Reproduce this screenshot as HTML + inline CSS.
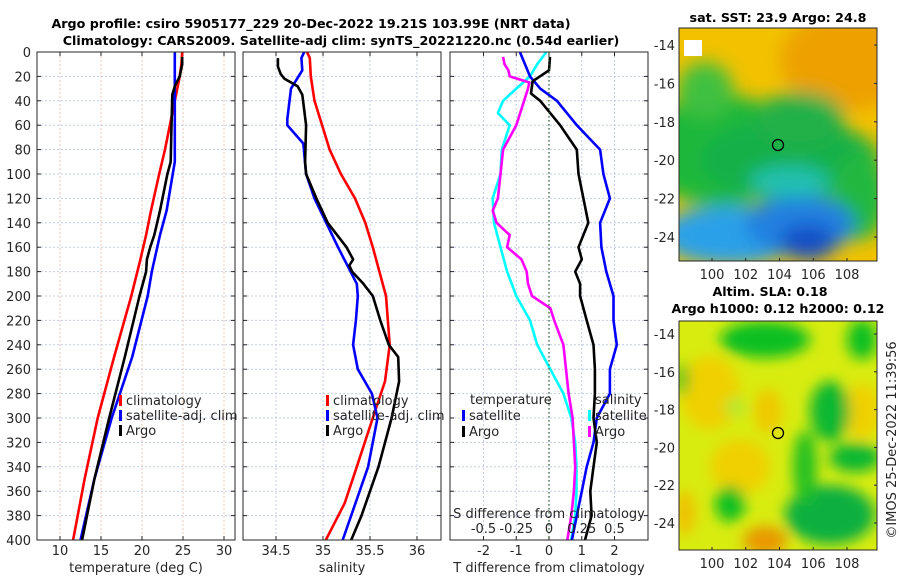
<!DOCTYPE html>
<html><head><meta charset="utf-8"><style>
html,body{margin:0;padding:0;background:#fff;}
svg{display:block;font-family:"DejaVu Sans","Liberation Sans",sans-serif;}
.t{font-size:13px;fill:#262626;}
.b{font-size:12.7px;font-weight:bold;fill:#000;}
</style></head><body>
<svg id="c" width="900" height="580" xmlns="http://www.w3.org/2000/svg">
<defs>
<filter id="bl1" x="-50%" y="-50%" width="200%" height="200%"><feGaussianBlur stdDeviation="9"/></filter>
<filter id="bl2" x="-50%" y="-50%" width="200%" height="200%"><feGaussianBlur stdDeviation="7"/></filter>
<clipPath id="cm1"><rect x="679" y="28" width="198" height="233"/></clipPath>
<clipPath id="cm2"><rect x="679" y="321" width="198" height="229"/></clipPath>
</defs>
<text class="b" x="311" y="28" text-anchor="middle">Argo profile: csiro 5905177_229 20-Dec-2022 19.21S 103.99E (NRT data)</text>
<text class="b" x="341" y="45" text-anchor="middle">Climatology: CARS2009. Satellite-adj clim: synTS_20221220.nc (0.54d earlier)</text>

<g>
<g clip-path="url(#cm1)">
<rect x="679" y="28" width="198" height="233" fill="#f2c200"/>
<g filter="url(#bl1)">
<ellipse cx="850" cy="60" rx="70" ry="50" fill="#eda000"/>
<ellipse cx="720" cy="150" rx="80" ry="55" fill="#1cb83a"/>
<ellipse cx="790" cy="160" rx="90" ry="40" fill="#18b048"/>
<ellipse cx="800" cy="120" rx="45" ry="28" fill="#20b048"/>
<ellipse cx="705" cy="90" rx="28" ry="28" fill="#40c040"/>
<ellipse cx="860" cy="195" rx="28" ry="45" fill="#20b840"/>
<ellipse cx="730" cy="235" rx="70" ry="30" fill="#2aa0e8"/>
<ellipse cx="800" cy="225" rx="55" ry="30" fill="#2080e0"/>
<ellipse cx="808" cy="242" rx="28" ry="18" fill="#1850c8"/>
<ellipse cx="790" cy="182" rx="40" ry="16" fill="#20c0b0"/>
</g>
<rect x="684" y="40" width="18" height="16" fill="#fff"/>
</g>
<rect x="679" y="28" width="198" height="233" fill="none" stroke="#262626"/>
<circle cx="778" cy="145" r="5.5" fill="none" stroke="#000" stroke-width="1.3"/>
<text class="b" x="778" y="22" text-anchor="middle">sat. SST: 23.9 Argo: 24.8</text>
</g>

<g>
<g clip-path="url(#cm2)">
<rect x="679" y="321" width="198" height="229" fill="#d8ec10"/>
<g filter="url(#bl2)" transform="translate(0,321) scale(1,0.923) translate(0,-302)">
<ellipse cx="710" cy="380" rx="30" ry="40" fill="#f0d000"/>
<ellipse cx="740" cy="460" rx="30" ry="30" fill="#f0d000"/>
<ellipse cx="862" cy="400" rx="18" ry="30" fill="#f0d000"/>
<ellipse cx="768" cy="400" rx="14" ry="25" fill="#f0c800"/>
<ellipse cx="765" cy="540" rx="22" ry="16" fill="#e89800"/>
<ellipse cx="685" cy="510" rx="10" ry="25" fill="#f0c000"/>
<ellipse cx="765" cy="322" rx="45" ry="20" fill="#10c020"/>
<ellipse cx="862" cy="322" rx="15" ry="22" fill="#10c020"/>
<ellipse cx="830" cy="400" rx="20" ry="33" fill="#10b830"/>
<ellipse cx="855" cy="450" rx="26" ry="16" fill="#10b830"/>
<ellipse cx="830" cy="512" rx="45" ry="32" fill="#10b040"/>
<ellipse cx="805" cy="460" rx="12" ry="40" fill="#20c020"/>
<ellipse cx="730" cy="500" rx="15" ry="20" fill="#10c020"/>
<ellipse cx="682" cy="365" rx="6" ry="18" fill="#20c020"/>
<ellipse cx="735" cy="395" rx="10" ry="10" fill="#b0e830"/>
</g>
</g>
<rect x="679" y="321" width="198" height="229" fill="none" stroke="#262626"/>
<circle cx="778" cy="433" r="5.5" fill="none" stroke="#000" stroke-width="1.3"/>
<text class="b" x="770" y="296" text-anchor="middle">Altim. SLA: 0.18</text>
<text class="b" x="778" y="313" text-anchor="middle">Argo h1000: 0.12 h2000: 0.12</text>
</g>
<text class="t" transform="translate(896,440) rotate(-90)" text-anchor="middle">©IMOS 25-Dec-2022 11:39:56</text>
<g id="dyn"></g>
</svg>
<script>
// ---------- data ----------
const depthTicks = [0,20,40,60,80,100,120,140,160,180,200,220,240,260,280,300,320,340,360,380,400];
const tempTicks = [10,15,20,25,30];
const salTicks = [34.5,35,35.5,36];
const tdiffTicks = [-2,-1,0,1,2];
const sdiffTicks = [-0.5,-0.25,0,0.25,0.5];
const sdiffTickLabels = ["-0.5","-0.25","0","0.25","0.5"];

const tClimDepth = [0,10,20,30,50,80,100,130,150,170,200,250,300,350,400];
const tClim = [24.9,24.8,24.6,24.3,23.7,22.8,22.1,21.1,20.5,19.8,18.7,16.6,14.6,13.0,11.6];
const tSatDepth = [0,90,130,150,180,200,250,300,350,400];
const tSat = [24.0,24.0,23.0,22.2,21.2,20.7,18.8,16.3,14.2,12.5];
const tArgoDepth = [4,10,20,28,35,60,90,100,130,150,160,170,180,200,250,300,350,400];
const tArgo = [24.9,24.9,24.6,24.0,23.7,23.6,23.5,23.1,22.2,21.5,21.0,20.6,20.5,19.7,17.9,16.0,14.2,12.7];

const sClimDepth = [0,5,20,40,60,80,100,120,140,160,200,240,270,300,340,370,400];
const sClim = [34.83,34.86,34.87,34.91,34.99,35.07,35.19,35.34,35.45,35.53,35.67,35.71,35.66,35.53,35.36,35.23,35.03];
const sSatDepth = [0,5,15,30,55,60,75,100,120,160,190,200,220,240,260,280,300,340,400];
const sSat = [34.80,34.77,34.78,34.66,34.62,34.62,34.79,34.82,34.91,35.16,35.36,35.37,35.35,35.32,35.37,35.52,35.58,35.48,35.21];
const sArgoDepth = [5,12,18,22,28,35,60,90,100,120,140,160,170,175,180,190,200,220,240,250,270,300,340,380,400];
const sArgo = [34.52,34.52,34.55,34.59,34.73,34.78,34.82,34.81,34.82,34.93,35.05,35.25,35.32,35.28,35.31,35.43,35.53,35.61,35.70,35.80,35.81,35.73,35.59,35.41,35.30];

const dTSatDepth = [0,20,30,40,60,80,100,120,140,160,180,200,220,240,260,280,300,320,340,360,380,400];
const dTSat = [-0.89,-0.58,-0.27,0.24,0.85,1.56,1.66,1.86,1.56,1.6,1.75,1.97,1.97,2.07,1.86,1.86,1.46,1.36,1.15,1.0,0.85,0.7];
const dTArgoDepth = [4,15,24,34,40,60,80,100,120,140,150,160,170,180,190,200,220,240,260,280,300,320,340,360,380,400];
const dTArgo = [0.03,0.0,-0.5,-0.55,-0.27,0.34,0.85,0.9,1.05,1.2,1.05,0.9,1.0,0.8,0.95,0.95,1.15,1.36,1.4,1.4,1.36,1.46,1.36,1.26,1.3,1.1];
const dSSatDepth = [0,10,20,30,40,50,60,80,100,120,140,160,180,200,220,240,260,280,300,320,340,360,380,400];
const dSSat = [-0.02,-0.09,-0.145,-0.25,-0.35,-0.39,-0.30,-0.36,-0.37,-0.43,-0.42,-0.37,-0.32,-0.25,-0.145,-0.09,0.01,0.11,0.17,0.2,0.21,0.21,0.2,0.17];
const dSArgoDepth = [4,10,15,20,25,30,40,60,80,100,120,130,140,150,160,170,180,190,200,210,220,240,260,280,300,320,340,360,380,400];
const dSArgo = [-0.35,-0.34,-0.31,-0.30,-0.15,-0.16,-0.19,-0.25,-0.35,-0.37,-0.39,-0.43,-0.40,-0.30,-0.32,-0.21,-0.17,-0.16,-0.13,0.01,0.04,0.11,0.13,0.15,0.18,0.19,0.2,0.19,0.17,0.14];

const mapLonTicks = [100,102,104,106,108];
const mapLatTicks = [-14,-16,-18,-20,-22,-24];

// ---------- drawing ----------
const NS = "http://www.w3.org/2000/svg";
const root = document.getElementById('dyn');
function mk(tag, attrs, parent){ const e=document.createElementNS(NS,tag); for(const k in attrs) e.setAttribute(k,attrs[k]); (parent||root).appendChild(e); return e; }
const Y0=52, Y1=540;
const yScale = d => Y0 + d/400*(Y1-Y0);
function lin(d0,d1,r0,r1){ return v => r0 + (v-d0)/(d1-d0)*(r1-r0); }

const panels = [
  {name:'temperature-panel', x0:37, x1:235, sx: lin(10,30,60,224), ticks: tempTicks, labels: tempTicks.map(String), title:'temperature (deg C)'},
  {name:'salinity-panel', x0:243, x1:441, sx: lin(34.5,36,276,417), ticks: salTicks, labels: ['34.5','35','35.5','36'], title:'salinity'},
  {name:'difference-panel', x0:450, x1:648, sx: lin(0,1,549,581.75), ticks: tdiffTicks, labels: tdiffTicks.map(String), title:'T difference from climatology'}
];

panels.forEach((p,i)=>{
  const g = mk('g',{});
  
  
  p.g = g;
  depthTicks.forEach(d=>{
    const l = mk('line',{x1:p.x0,x2:p.x1,y1:yScale(d),y2:yScale(d),stroke:'#c4cbe6','stroke-width':1,'stroke-dasharray':'2,2'},g);
    
    
    mk('line',{x1:p.x0,x2:p.x0+4,y1:yScale(d),y2:yScale(d),stroke:'#262626'},g);
    mk('line',{x1:p.x1,x2:p.x1-4,y1:yScale(d),y2:yScale(d),stroke:'#262626'},g);
  });
  p.ticks.forEach((t,j)=>{
    const x=p.sx(t);
    const l = mk('line',{x1:x,x2:x,y1:Y0,y2:Y1,stroke: i===0?'#e8c8b8':'#c4cbe6','stroke-width':1,'stroke-dasharray':'2,2'},g);
    
    
    mk('line',{x1:x,x2:x,y1:Y1,y2:Y1-4,stroke:'#262626'},g);
    mk('line',{x1:x,x2:x,y1:Y0,y2:Y0+4,stroke:'#262626'},g);
    const tx = mk('text',{class:'t',x:x,y:555,'text-anchor':'middle'},g);
    tx.textContent = p.labels[j];
    
    
  });
  const xt = mk('text',{class:'t',x:(p.x0+p.x1)/2,y:572,'text-anchor':'middle'},g);
  xt.textContent = p.title;
  
  
});

depthTicks.forEach(d=>{
  const t = mk('text',{class:'t',x:31,y:yScale(d)+5,'text-anchor':'end'});
  t.textContent = String(d);
  
  
});

const zl = mk('line',{x1:panels[2].sx(0),x2:panels[2].sx(0),y1:Y0,y2:Y1,stroke:'#2a5a2a','stroke-width':1.2,'stroke-dasharray':'1.5,2.5'});



function series(p, sx, depths, vals, color, name){
  const pts = depths.map((d,k)=> sx(vals[k]).toFixed(1)+','+yScale(d).toFixed(1)).join(' ');
  const pl = mk('polyline',{points:pts,fill:'none',stroke:color,'stroke-width':2.6,'stroke-linejoin':'round'},p.g);
  
  
}
const P0=panels[0], P1=panels[1], P2=panels[2];
series(P0,P0.sx,tClimDepth,tClim,'#ff0000','temp-climatology-line');
series(P0,P0.sx,tSatDepth,tSat,'#0000ff','temp-satellite-line');
series(P0,P0.sx,tArgoDepth,tArgo,'#000000','temp-argo-line');
series(P1,P1.sx,sClimDepth,sClim,'#ff0000','sal-climatology-line');
series(P1,P1.sx,sSatDepth,sSat,'#0000ff','sal-satellite-line');
series(P1,P1.sx,sArgoDepth,sArgo,'#000000','sal-argo-line');
const sdx = v => P2.sx(v*4);
series(P2,sdx,dSSatDepth,dSSat,'#00ffff','sdiff-satellite-line');
series(P2,sdx,dSArgoDepth,dSArgo,'#ff00ff','sdiff-argo-line');
series(P2,P2.sx,dTSatDepth,dTSat,'#0000ff','tdiff-satellite-line');
series(P2,P2.sx,dTArgoDepth,dTArgo,'#000000','tdiff-argo-line');

panels.forEach(p=>{
  const r = mk('rect',{x:p.x0,y:Y0,width:p.x1-p.x0,height:Y1-Y0,fill:'none',stroke:'#262626','stroke-width':1});
  
  
});

const sat = mk('text',{class:'t',x:549,y:518,'text-anchor':'middle'});
sat.textContent='S difference from climatology';


sdiffTicks.forEach((s,j)=>{
  const t = mk('text',{class:'t',x:sdx(s),y:533,'text-anchor':'middle'});
  t.textContent = sdiffTickLabels[j];
  
  
});

function legend(x,y,color,label,name){
  const g = mk('g',{});
  
  
  mk('rect',{x:x,y:y-10,width:3,height:11,fill:color},g);
  const t = mk('text',{class:'t',x:x+7,y:y},g);
  t.textContent = label;
}
legend(119,405,'#ff0000','climatology','legend-climatology');
legend(119,420,'#0000ff','satellite-adj. clim','legend-satellite');
legend(119,435,'#000000','Argo','legend-argo');
legend(326,405,'#ff0000','climatology','legend-climatology-2');
legend(326,420,'#0000ff','satellite-adj. clim','legend-satellite-2');
legend(326,435,'#000000','Argo','legend-argo-2');
const th = mk('text',{class:'t',x:470,y:404});
th.textContent='temperature';


const sh = mk('text',{class:'t',x:595,y:404});
sh.textContent='salinity';


legend(462,420,'#0000ff','satellite','legend-t-satellite');
legend(462,436,'#000000','Argo','legend-t-argo');
legend(588,420,'#00ffff','satellite','legend-s-satellite');
legend(588,436,'#ff00ff','Argo','legend-s-argo');

function mapAxes(yTop,yBot,boxBot,lonY,name){
  const g = mk('g',{});
  
  
  const lx = lin(100,108,712,847), ly = lin(-14,-24,yTop,yBot);
  mapLonTicks.forEach(v=>{
    const x=lx(v);
    mk('line',{x1:x,x2:x,y1:boxBot,y2:boxBot-3,stroke:'#262626'},g);
    const t=mk('text',{class:'t',x:x,y:lonY,'text-anchor':'middle'},g);
    t.textContent=String(v);
  });
  mapLatTicks.forEach(v=>{
    const y=ly(v);
    mk('line',{x1:877,x2:874,y1:y,y2:y,stroke:'#262626'},g);
    const t=mk('text',{class:'t',x:675,y:y+5,'text-anchor':'end'},g);
    t.textContent=String(v);
  });
}
mapAxes(45,237,261,279,'sst-map-axes');
mapAxes(334,523,550,568,'sla-map-axes');
</script>
</body></html>
